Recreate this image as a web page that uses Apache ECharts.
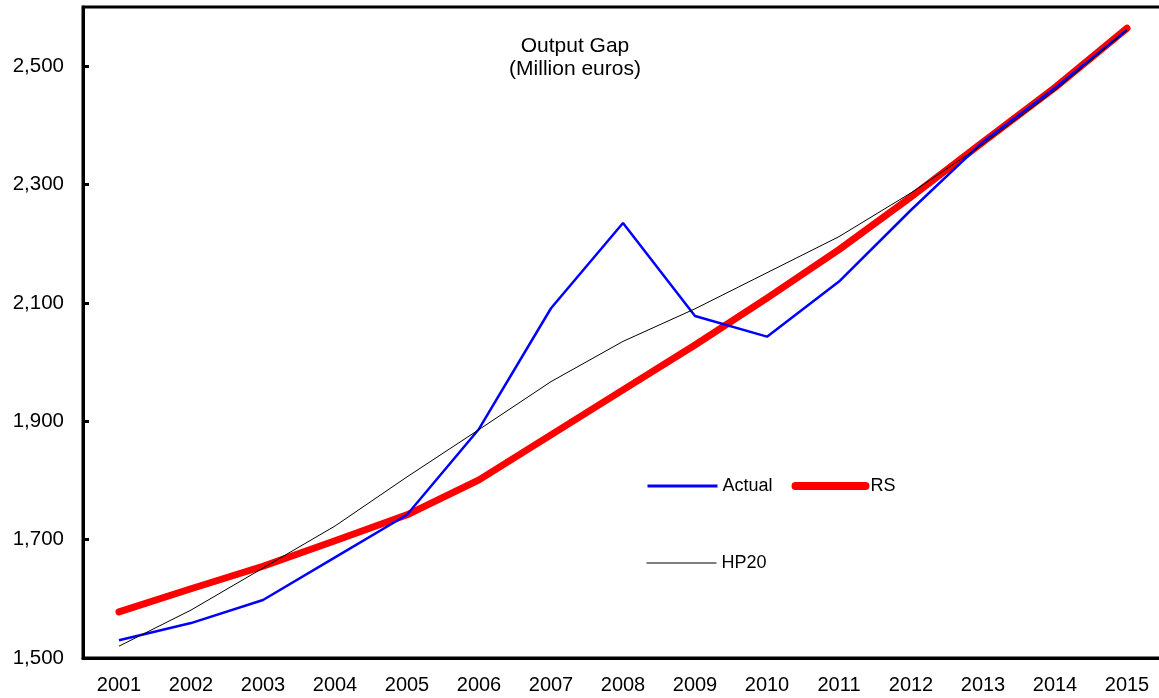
<!DOCTYPE html>
<html>
<head>
<meta charset="utf-8">
<script src="https://cdn.jsdelivr.net/npm/echarts@6/dist/echarts.min.js"></script>
<style>
html,body{margin:0;padding:0;background:#fff;}
#chart{width:1159px;height:698px;}
</style>
</head>
<body>
<div id="chart"></div>
<script>
const years = ['2001','2002','2003','2004','2005','2006','2007','2008','2009','2010','2011','2012','2013','2014','2015'];
const actual = [1530,1559,1598,1670,1742,1887,2091,2235,2078,2043,2136,2257,2372,2463,2561];
const rs     = [1578,1617,1655,1698,1742,1801,1877,1953,2029,2108,2190,2279,2372,2464,2564];
const hp20   = [1520,1581,1652,1723,1806,1886,1967,2035,2090,2151,2212,2286,2368,2459,2561];
const titleLines = ['Output Gap', '(Million euros)'];

const FONT = '"Liberation Sans", Arial, sans-serif';
const chart = echarts.init(document.getElementById('chart'), null, {renderer:'canvas'});
chart.setOption({
  animation: false,
  backgroundColor: '#fff',
  title: {
    text: titleLines.join('\n'),
    left: 570, top: 30, textAlign: 'center',
    textStyle: {fontFamily: FONT, fontSize: 21, fontWeight: 'normal', color: '#000', lineHeight: 23}
  },
  grid: {left: 83, top: 7, width: 1080, bottom: 40, show: true, borderColor: '#000', borderWidth: 3,
         containLabel: false, outerBoundsMode: 'none'},
  legend: [
    {data: [
       {name: 'Actual', itemStyle: {opacity: 0}, lineStyle: {width: 3}},
       {name: 'RS', itemStyle: {opacity: 0}, lineStyle: {width: 8}}
     ],
     left: 641, top: 472, itemWidth: 70, itemHeight: 14, itemGap: 19,
     textStyle: {fontFamily: FONT, fontSize: 18, color: '#000'}},
    {data: [{name: 'HP20', itemStyle: {opacity: 0}, lineStyle: {width: 1}}],
     left: 641, top: 549, itemWidth: 70, itemHeight: 14,
     textStyle: {fontFamily: FONT, fontSize: 18, color: '#000'}}
  ],
  xAxis: {
    type: 'category', data: years, boundaryGap: true,
    axisLine: {lineStyle: {color: '#000', width: 3}},
    axisTick: {inside: true, length: 6, lineStyle: {color: '#000', width: 3}},
    axisLabel: {fontFamily: FONT, fontSize: 20, color: '#000', margin: 17},
    splitLine: {show: false}
  },
  yAxis: {
    type: 'value', min: 1500, max: 2600, interval: 200,
    axisLine: {show: true, lineStyle: {color: '#000', width: 3}},
    axisTick: {show: true, inside: true, length: 6, lineStyle: {color: '#000', width: 3}},
    axisLabel: {fontFamily: FONT, fontSize: 20.5, color: '#000', margin: 19, showMaxLabel: false,
      formatter: v => v >= 2600 ? '' : v.toLocaleString('en-US')},
    splitLine: {show: false}
  },
  series: [
    {name: 'Actual', type: 'line', data: actual, symbol: 'none', z: 3,
     lineStyle: {color: '#0000ff', width: 2.5}, itemStyle: {color: '#0000ff'}},
    {name: 'RS', type: 'line', data: rs, symbol: 'none', z: 2,
     lineStyle: {color: '#ff0000', width: 7, cap: 'round', join: 'round'}, itemStyle: {color: '#ff0000'}},
    {name: 'HP20', type: 'line', data: hp20, symbol: 'none', z: 4,
     lineStyle: {color: '#000', width: 1}, itemStyle: {color: '#000'}}
  ]
});
</script>
</body>
</html>
